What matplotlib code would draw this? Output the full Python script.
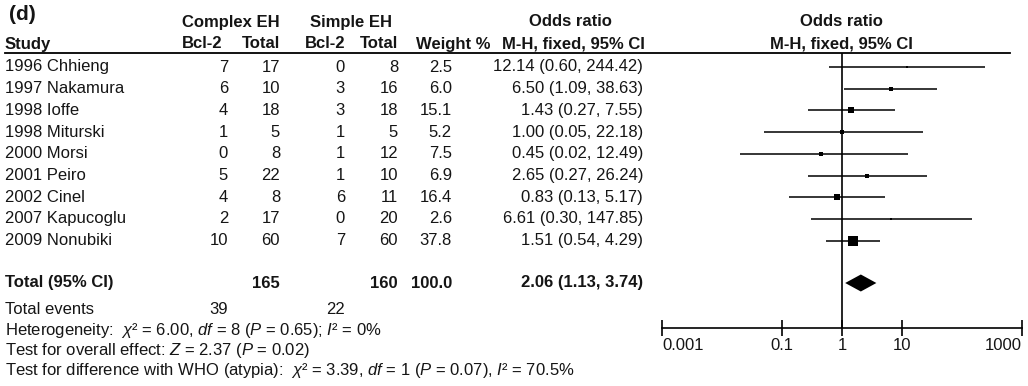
import matplotlib
matplotlib.use('Agg')
import matplotlib.pyplot as plt
import numpy as np

plt.rcParams['font.family'] = ['Liberation Sans', 'DejaVu Sans']
plt.rcParams['mathtext.fontset'] = 'custom'
plt.rcParams['mathtext.rm'] = 'Liberation Sans'
plt.rcParams['mathtext.it'] = 'Liberation Sans:italic'

# %% Daten
studies = ['1996 Chhieng', '1997 Nakamura', '1998 Ioffe', '1998 Miturski',
           '2000 Morsi', '2001 Peiro', '2002 Cinel', '2007 Kapucoglu',
           '2009 Nonubiki']
cx_events = [7, 6, 4, 1, 0, 5, 4, 2, 10]
cx_total = [17, 10, 18, 5, 8, 22, 8, 17, 60]
sp_events = [0, 3, 3, 1, 1, 1, 6, 0, 7]
sp_total = [8, 16, 18, 5, 12, 10, 11, 20, 60]
weight = [2.5, 6.0, 15.1, 5.2, 7.5, 6.9, 16.4, 2.6, 37.8]
odds = [12.14, 6.50, 1.43, 1.00, 0.45, 2.65, 0.83, 6.61, 1.51]
ci_lo = [0.60, 1.09, 0.27, 0.05, 0.02, 0.27, 0.13, 0.30, 0.54]
ci_hi = [244.42, 38.63, 7.55, 22.18, 12.49, 26.24, 5.17, 147.85, 4.29]

tot_cx, tot_sp, tot_w = 165, 160, 100.0
tot_or, tot_lo, tot_hi = 2.06, 1.13, 3.74
ev_cx, ev_sp = 39, 22

ticks = [0.001, 0.1, 1, 10, 1000]
tick_labels = ['0.001', '0.1', '1', '10', '1000']

footer = [
    'Total events',
    r'Heterogeneity:  $\chi$² = 6.00, $\mathit{df}$ = 8 ($\mathit{P}$ = 0.65); $\mathit{I}$² = 0%',
    r'Test for overall effect: $\mathit{Z}$ = 2.37 ($\mathit{P}$ = 0.02)',
    r'Test for difference with WHO (atypia):  $\chi$² = 3.39, $\mathit{df}$ = 1 ($\mathit{P}$ = 0.07), $\mathit{I}$² = 70.5%',
]

# %% Layout (Pixel)
W, H = 1028, 386
fs = 12
fsb = 12
col = '#151515'
row0, dy = 67, 21.7
y_rows = row0 + dy * np.arange(len(studies))
y_tot = 283
y_foot = [310, 330, 350, 370]

fig = plt.figure(figsize=(W / 100, H / 100), dpi=100)
ax = fig.add_axes([0, 0, 1, 1])
ax.set_xlim(0, W)
ax.set_ylim(H, 0)
ax.axis('off')

# Kopfzeilen
hb = dict(fontsize=fsb, fontweight='bold', color=col, va='center')
ax.text(9, 14, '(d)', fontsize=15, fontweight='bold', color=col, va='center')
ax.text(231, 22, 'Complex EH', ha='center', **hb)
ax.text(351, 22, 'Simple EH', ha='center', **hb)
ax.text(5, 44, 'Study', ha='left', **hb)
ax.text(222, 44, 'Bcl-2', ha='right', **hb)
ax.text(280, 44, 'Total', ha='right', **hb)
ax.text(345, 44, 'Bcl-2', ha='right', **hb)
ax.text(398, 44, 'Total', ha='right', **hb)
ax.text(453, 44, 'Weight %', ha='center', **hb)
ax.text(570, 22, 'Odds ratio', ha='center', **hb)
ax.text(573, 44, 'M-H, fixed, 95% CI', ha='center', **hb)
ax.text(841, 22, 'Odds ratio', ha='center', **hb)
ax.text(841, 44, 'M-H, fixed, 95% CI', ha='center', **hb)
ax.plot([5, 1010], [53, 53], color='k', lw=1.3)

# Tabellenzeilen
tn = dict(fontsize=fs, color=col, va='center')
for i, s in enumerate(studies):
    y = y_rows[i]
    ax.text(5, y, s, ha='left', **tn)
    ax.text(228, y, str(cx_events[i]), ha='right', **tn)
    ax.text(280, y, str(cx_total[i]), ha='right', **tn)
    ax.text(345, y, str(sp_events[i]), ha='right', **tn)
    ax.text(398, y, str(sp_total[i]), ha='right', **tn)
    ax.text(452, y, f'{weight[i]:.1f}', ha='right', **tn)
    ax.text(643, y, f'{odds[i]:.2f} ({ci_lo[i]:.2f}, {ci_hi[i]:.2f})', ha='right', **tn)

ax.text(5, y_tot, 'Total (95% CI)', ha='left', **hb)
ax.text(280, y_tot, str(tot_cx), ha='right', **hb)
ax.text(398, y_tot, str(tot_sp), ha='right', **hb)
ax.text(452, y_tot, f'{tot_w:.1f}', ha='right', **hb)
ax.text(643, y_tot, f'{tot_or:.2f} ({tot_lo:.2f}, {tot_hi:.2f})', ha='right', **hb)

for t, y in zip(footer, y_foot):
    ax.text(5, y, t, ha='left', **tn)
ax.text(228, y_foot[0], str(ev_cx), ha='right', **tn)
ax.text(345, y_foot[0], str(ev_sp), ha='right', **tn)

# %% Forest plot
x0, x1 = 662, 1022
ytop, ybot = 53, 328
fa = fig.add_axes([x0 / W, 1 - ybot / H, (x1 - x0) / W, (ybot - ytop) / H])
fa.patch.set_alpha(0)
fa.set_xscale('log')
fa.set_xlim(ticks[0], ticks[-1])
fa.set_ylim(ybot, ytop)
for sp in ['top', 'left', 'right']:
    fa.spines[sp].set_visible(False)
fa.spines['bottom'].set_linewidth(1.2)
fa.set_yticks([])
fa.set_xticks(ticks)
fa.set_xticklabels(tick_labels)
fa.xaxis.set_minor_locator(matplotlib.ticker.NullLocator())
fa.tick_params(axis='x', direction='inout', length=11, width=1.2,
               labelsize=fs, labelcolor=col, pad=2)
lbls = fa.get_xticklabels()
lbls[0].set_ha('left')
lbls[-1].set_ha('right')

fa.axvline(1, color='k', lw=1.2)
fa.hlines(y_rows, ci_lo, ci_hi, color='k', lw=1.1)
for i in range(len(studies)):
    fa.plot(odds[i], y_rows[i], marker='s', color='k', ms=1.12 * np.sqrt(weight[i]),
            mec='k', mew=0)

# Diamant fuer Gesamteffekt
dh = 8.5
fa.fill([tot_lo, tot_or, tot_hi, tot_or], [y_tot, y_tot - dh, y_tot, y_tot + dh],
        color='k', lw=0)

fig.savefig('out.png', dpi=100)
